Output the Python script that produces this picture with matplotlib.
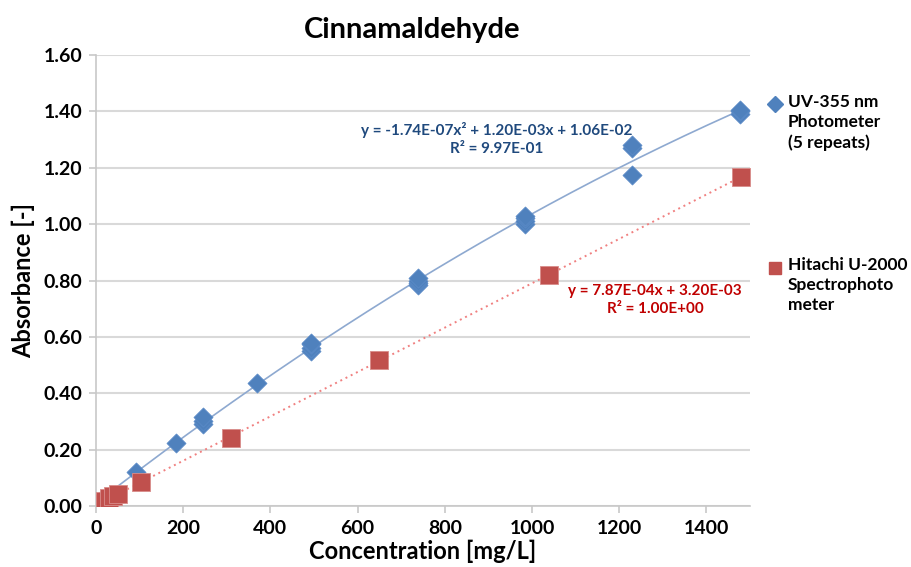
import numpy as np
import matplotlib
matplotlib.use("Agg")
import matplotlib.pyplot as plt
from matplotlib.lines import Line2D

plt.rcParams['font.family'] = ['Lato', 'DejaVu Sans']

# UV-355 nm photometer (5 repeats)
uv_conc = [0, 0, 9, 92, 184, 246, 246, 246, 369, 492, 492, 492, 492,
           738, 738, 738, 738, 984, 984, 984, 984, 1230, 1230, 1230, 1476, 1476, 1476]
uv_abs = [0.010, 0.012, 0.018, 0.120, 0.225, 0.290, 0.300, 0.315, 0.435,
          0.550, 0.560, 0.575, 0.580, 0.785, 0.790, 0.800, 0.810,
          1.000, 1.010, 1.020, 1.030, 1.175, 1.270, 1.280, 1.390, 1.400, 1.405]

# Hitachi U-2000 spectrophotometer
hi_conc = [5, 10, 20, 30, 40, 50, 104, 310, 650, 1040, 1480]
hi_abs = [0.004, 0.011, 0.019, 0.027, 0.035, 0.042, 0.085, 0.243, 0.518, 0.820, 1.168]

# Trendline coefficients (as printed on the chart)
uv_poly = [-1.74e-07, 1.20e-03, 1.06e-02]
hi_lin = [7.87e-04, 3.20e-03]

uv_eq = "y = -1.74E-07x² + 1.20E-03x + 1.06E-02\nR² = 9.97E-01"
hi_eq = "y = 7.87E-04x + 3.20E-03\nR² = 1.00E+00"

xticks = [0, 200, 400, 600, 800, 1000, 1200, 1400]
yticks = [0.0, 0.2, 0.4, 0.6, 0.8, 1.0, 1.2, 1.4, 1.6]

blue = '#4F81BD'
red = '#C0504D'

fig = plt.figure(figsize=(9.11, 5.67), dpi=100)
ax = fig.add_axes([96/911, 1 - 506/567, (750-96)/911, (506-55)/567])

ax.set_xlim(0, 1500)
ax.set_ylim(0, 1.6)
ax.set_xticks(xticks)
ax.set_yticks(yticks)
ax.set_xticklabels([str(t) for t in xticks], fontsize=14, fontweight='bold')
ax.set_yticklabels([f"{t:.2f}" for t in yticks], fontsize=14, fontweight='bold')
ax.grid(axis='y', color='#D9D9D9', linewidth=1.5)
ax.set_axisbelow(True)
for s in ['top', 'right']:
    ax.spines[s].set_visible(False)
for s in ['left', 'bottom']:
    ax.spines[s].set_color('#C8C8C8')
    ax.spines[s].set_linewidth(1.2)
ax.tick_params(axis='both', direction='out', length=5, color='#C8C8C8', width=1.2, pad=5)

# Trendlines
xf = np.linspace(0, max(uv_conc), 200)
ax.plot(xf, np.polyval(uv_poly, xf), color='#8EA9D0', linewidth=1.2, zorder=2)
xl = np.linspace(0, max(hi_conc), 200)
ax.plot(xl, np.polyval(hi_lin, xl), color='#F08080', linewidth=1.4, linestyle=(0, (1, 2)), zorder=2)

# Data points
ax.scatter(uv_conc, uv_abs, marker='D', s=95, color=blue, edgecolors='#5B8BC8', linewidths=0.5, zorder=3)
ax.scatter(hi_conc, hi_abs, marker='s', s=150, color=red, edgecolors='#D98C8A', linewidths=0.6, zorder=4)

# Equations
fig.text(497/911, 1 - 139/567, uv_eq, ha='center', va='center',
         fontsize=11, fontweight='bold', color='#1F497D', linespacing=1.35)
fig.text(655/911, 1 - 300/567, hi_eq, ha='center', va='center',
         fontsize=11, fontweight='bold', color='#C00000', linespacing=1.35)

ax.set_xlabel("Concentration [mg/L]", fontsize=17, fontweight='bold', labelpad=2)
ax.set_ylabel("Absorbance [-]", fontsize=17, fontweight='bold', labelpad=6)
fig.text(412/911, 1 - 30/567, "Cinnamaldehyde", ha='center', va='center', fontsize=21, fontweight='bold')

# Legend (manual, outside plot)
fig.add_artist(Line2D([775/911], [1 - 104/567], marker='D', markersize=8, color=blue, linestyle='none',
                      transform=fig.transFigure))
fig.text(788/911, 1 - 94/567, "UV-355 nm\nPhotometer\n(5 repeats)", ha='left', va='top',
         fontsize=12.5, fontweight='bold', linespacing=1.3)
fig.add_artist(Line2D([775/911], [1 - 268/567], marker='s', markersize=9, color=red, linestyle='none',
                      transform=fig.transFigure))
fig.text(788/911, 1 - 257/567, "Hitachi U-2000\nSpectrophoto\nmeter", ha='left', va='top',
         fontsize=12.5, fontweight='bold', linespacing=1.3)

fig.savefig("out.png", dpi=100)
